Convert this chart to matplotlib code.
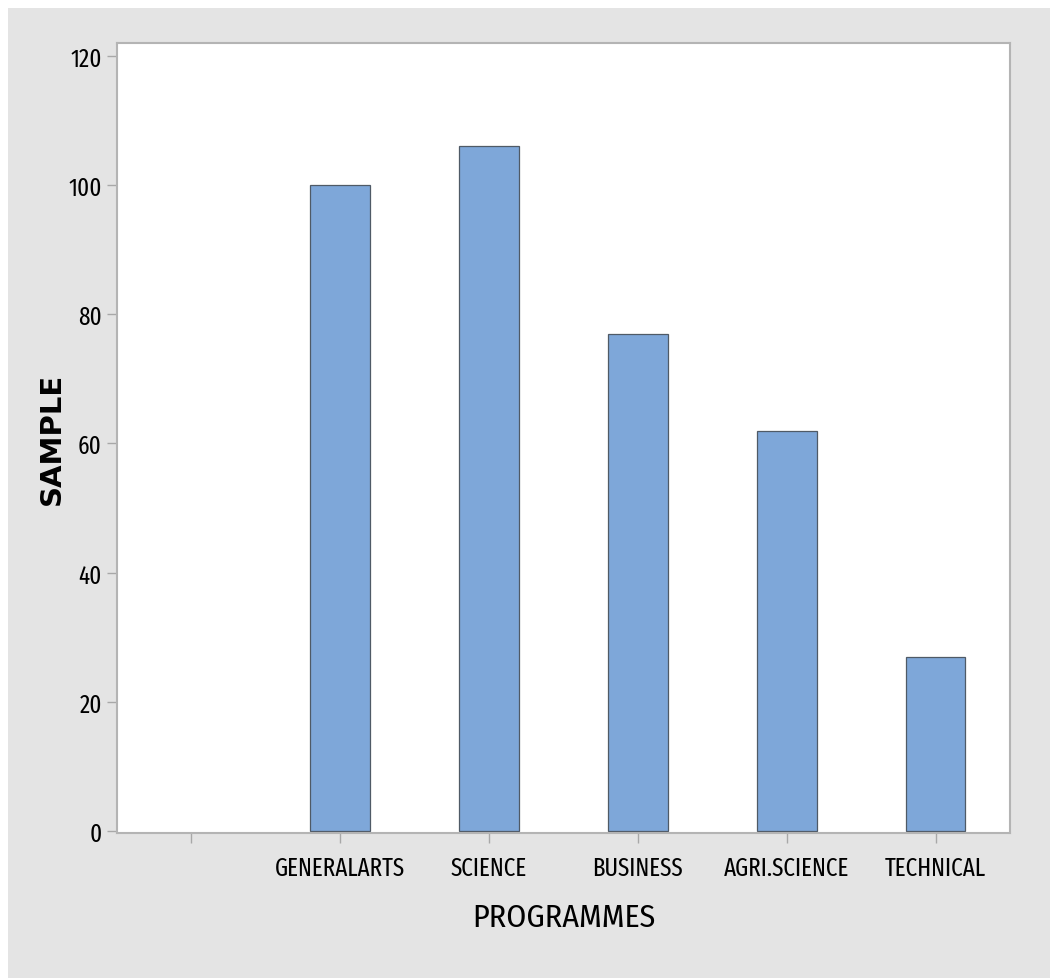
import matplotlib.pyplot as plt
from matplotlib.patches import Rectangle

programmes = ["", "GENERALARTS", "SCIENCE", "BUSINESS", "AGRI.SCIENCE", "TECHNICAL"]
sample = [0, 100, 106, 77, 62, 27]
yticks = [0, 20, 40, 60, 80, 100, 120]

tickfont = ["Fira Sans Extra Condensed", "DejaVu Sans"]
labelfont = ["Fira Sans Condensed", "DejaVu Sans"]

fig = plt.figure(figsize=(10.5, 9.79), dpi=100, facecolor="white")
# gray panel behind everything, with the thin white strip left and top
fig.patches.append(Rectangle((8 / 1050, 0), 1, (979 - 9) / 979, transform=fig.transFigure,
                             facecolor="#e4e4e4", edgecolor="none", zorder=-10))

ax = fig.add_axes([117 / 1050, 1 - 834 / 979, (1010 - 117) / 1050, (834 - 44) / 979])
ax.set_facecolor("white")

x = list(range(len(programmes)))
lw = [0 if v == 0 else 0.9 for v in sample]
ax.bar(x, sample, width=0.4, color="#7ea7d9", edgecolor="#4f5a66", linewidth=lw, zorder=2)

ax.set_xlim(-0.5, 5.5)
ax.set_ylim(-0.3, 122)
ax.set_xticks(x)
ax.set_xticklabels(programmes, family=tickfont, fontsize=18)
ax.set_yticks(yticks)
ax.set_yticklabels([str(v) for v in yticks], family=tickfont, fontsize=18)

for s in ax.spines.values():
    s.set_color("#b4b4b4")
    s.set_linewidth(1.5)
ax.tick_params(axis="both", color="#a8a8a8", length=7, width=1, pad=4)
ax.tick_params(axis="x", pad=9)

ax.set_xlabel("PROGRAMMES", family=labelfont, fontsize=23, labelpad=16)
ax.set_ylabel("SAMPLE", family="DejaVu Sans", fontstretch="normal", fontweight="bold",
              fontsize=21, labelpad=2)

fig.savefig("out.png", dpi=100, facecolor=fig.get_facecolor())
